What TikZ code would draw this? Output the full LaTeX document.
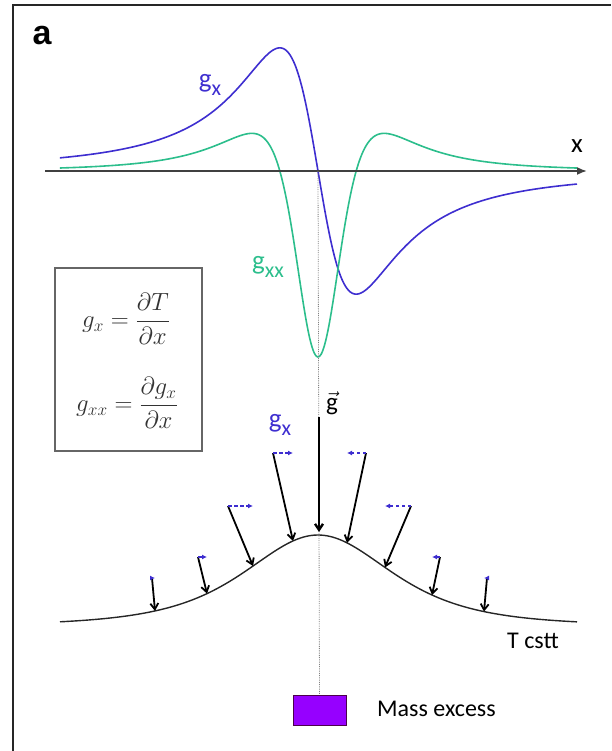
\documentclass[tikz,border=0pt]{standalone}
\usepackage{amsmath}
\usepackage[no-math]{fontspec}
\setmainfont{Carlito}
\newfontfamily\panelfont{Liberation Sans}
\usepackage{xcolor}
\usetikzlibrary{positioning, arrows.meta, calc}

\definecolor{gxblue}{RGB}{62,46,208}
\definecolor{gxxgreen}{RGB}{44,190,140}
\definecolor{massviolet}{RGB}{150,0,255}

\begin{document}
\begin{tikzpicture}[
    x=1pt, y=-1pt,
    % ---- T = cst profile ----
    declare function={tc(\t)=626-91/(1+((\t-318)/135)*((\t-318)/135))^2;},
    % ---- lines ----
    panelframe/.style={line width=2.4pt, black!85},
    axisline/.style={line width=1.8pt, black!75, -{Latex[length=10pt,width=8pt]}},
    gxline/.style={line width=1.6pt, gxblue},
    gxxline/.style={line width=1.6pt, gxxgreen},
    tline/.style={line width=1.4pt, black!85},
    guide/.style={densely dotted, black!50, line width=0.8pt},
    % ---- vectors ----
    gvec/.style={line width=1.8pt, black, -{Straight Barb[length=6pt,width=8pt]}},
    gcomp/.style={line width=1.2pt, gxblue, dash pattern=on 3.5pt off 2.5pt,
        -{Latex[length=5pt,width=5pt]}},
    % ---- labels ----
    lbl/.style={font=\fontsize{24}{27}\selectfont, inner sep=0pt},
    glbl/.style={font=\fontsize{27}{30}\selectfont, inner sep=0pt},
    eqbox/.style={draw=black!60, line width=1.3pt, minimum width=147pt,
        minimum height=183pt, inner sep=0pt},
    eq/.style={text=black!80, font=\fontsize{25}{30}\selectfont, inner sep=0pt},
    massbox/.style={draw=violet!60!black, fill=massviolet, line width=1pt,
        minimum width=53pt, minimum height=30pt, inner sep=0pt}
]

% ---- label macro: g with subscript ----
\newcommand{\gsub}[1]{g\raisebox{-0.3em}{\fontsize{22}{24}\selectfont #1}}

\useasboundingbox (0,0) rectangle (611,751);

% ---------- panel frame ----------
\draw[panelframe] (13,751) -- (13,5) -- (611,5);
\node[font=\panelfont\bfseries\fontsize{34}{36}\selectfont, inner sep=0pt]
    (panel) at (42,36) {a};

% ---------- profile: x axis, g_x, g_xx ----------
\coordinate (xl) at (45,171);
\coordinate (xr) at (587,171);
\coordinate (x0) at (318,171);

\draw[gxline] plot[domain=-4.78:4.8, samples=300, smooth]
    ({318+54*\x}, {171+320*\x/((1+\x*\x)*sqrt(1+\x*\x))});
\draw[gxxline] plot[domain=-4.78:4.8, samples=300, smooth]
    ({318+54*\x}, {171-186*(2*\x*\x-1)/((1+\x*\x)*(1+\x*\x)*sqrt(1+\x*\x))});
\draw[axisline] (xl) -- (xr);

\node[glbl] (xlab) at (577,146) {x};
\node[glbl, text=gxblue] (gxlab) at (210,85) {\gsub{x}};
\node[glbl, text=gxxgreen] (gxxlab) at (268,267) {\gsub{xx}};

% ---------- definitions ----------
\node[eqbox] (defs) at (128.5,359.5) {};
\node[eq] (eqa) at (126,319) {$\displaystyle g_x = \frac{\partial T}{\partial x}$};
\node[eq] (eqb) at (127,403) {$\displaystyle g_{xx} = \frac{\partial g_x}{\partial x}$};

% ---------- mass excess ----------
\node[massbox] (mass) at (319.5,710) {};
\node[lbl, anchor=west] (masslab) at (377,709) {Mass excess};
\draw[guide] (x0) -- (mass.north);

% ---------- T cstt surface ----------
\draw[tline] plot[domain=60:577, samples=160, smooth] (\x, {tc(\x)});
\node[lbl] (tlab) at (533,641) {T cstt};

% ---------- gravity vectors ----------
\coordinate (t1) at (152,578); \coordinate (p1) at (155,{tc(155)});
\coordinate (t2) at (198,557); \coordinate (p2) at (207,{tc(207)});
\coordinate (t3) at (228,506); \coordinate (p3) at (253,{tc(253)});
\coordinate (t4) at (273,453); \coordinate (p4) at (293,{tc(293)});
\coordinate (t6) at (366,453); \coordinate (p6) at (347,{tc(347)});
\coordinate (t7) at (411,506); \coordinate (p7) at (385,{tc(385)});
\coordinate (t8) at (440,557); \coordinate (p8) at (432,{tc(432)});
\coordinate (t9) at (487,578); \coordinate (p9) at (484,{tc(484)});
\coordinate (t5) at (319,417); \coordinate (p5) at (319,532);

\draw[gvec] (t1) -- (p1);
\draw[gvec] (t2) -- (p2);
\draw[gvec] (t3) -- (p3);
\draw[gvec] (t4) -- (p4);
\draw[gvec, line width=2.4pt] (t5) -- (p5);
\draw[gvec] (t6) -- (p6);
\draw[gvec] (t7) -- (p7);
\draw[gvec] (t8) -- (p8);
\draw[gvec] (t9) -- (p9);

% horizontal components
\draw[gcomp] (t1) -- (t1 -| p1);
\draw[gcomp] (t2) -- (t2 -| p2);
\draw[gcomp] (t3) -- (t3 -| p3);
\draw[gcomp] (t4) -- (t4 -| p4);
\draw[gcomp] (t6) -- (t6 -| p6);
\draw[gcomp] (t7) -- (t7 -| p7);
\draw[gcomp] (t8) -- (t8 -| p8);
\draw[gcomp] (t9) -- (t9 -| p9);

\node[glbl, text=gxblue] (gxvlab) at (280,425) {\gsub{x}};
\node[glbl, font=\fontsize{25}{28}\selectfont] (gvlab) at (332,403) {$\vec{\mbox{g}}$};

\end{tikzpicture}
\end{document}
